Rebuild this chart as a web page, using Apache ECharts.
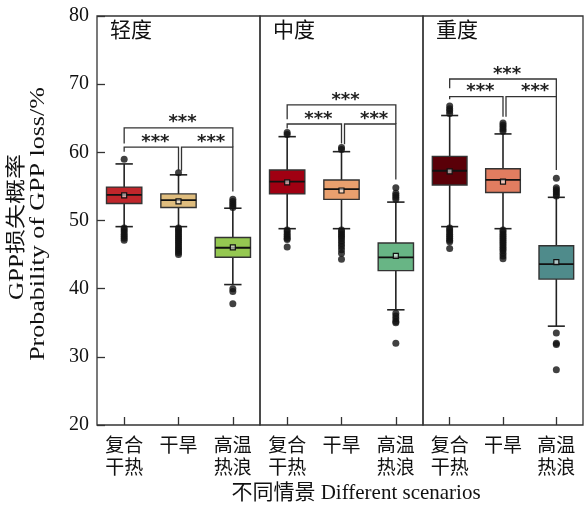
<!DOCTYPE html>
<html>
<head>
<meta charset="utf-8">
<script src="https://cdn.jsdelivr.net/npm/echarts@6/dist/echarts.min.js"></script>
<style>html,body{margin:0;padding:0;background:#fff}#c{width:584px;height:510px}</style>
</head>
<body>
<div id="c"></div>
<script>
// ---------------- data ----------------
const panelNames = ['轻度', '中度', '重度'];
const scenarios = ['复合\n干热', '干旱', '高温\n热浪'];
const yTicks = [20, 30, 40, 50, 60, 70, 80];
// box stats: [lowerWhisker, Q1, median, Q3, upperWhisker]
const mildStats = [[49.1, 52.5, 53.75, 54.9, 58.3], [49.1, 51.9, 53.0, 53.9, 56.7], [40.6, 44.6, 46.0, 47.5, 51.8]];
const moderateStats = [[48.8, 53.9, 55.7, 57.4, 62.3], [48.8, 53.1, 54.6, 55.95, 60.1], [36.9, 42.65, 44.6, 46.7, 52.7]];
const severeStats = [[49.1, 55.2, 57.3, 59.4, 65.4], [48.8, 54.1, 55.95, 57.6, 62.7], [34.5, 41.4, 43.6, 46.3, 53.4]];
const mildMeans = [53.7, 52.8, 46.05];
const moderateMeans = [55.6, 54.4, 44.8];
const severeMeans = [57.2, 55.7, 43.9];
// outliers: [scenarioIndex, value]
const mildOutliers = [
  [0, 59.0], [0, 48.9], [0, 48.6], [0, 48.3], [0, 48.0], [0, 47.7], [0, 47.4], [0, 47.1],
  [1, 57.0], [1, 48.9], [1, 48.6], [1, 48.3], [1, 48.0], [1, 47.7], [1, 47.4], [1, 47.1], [1, 46.8], [1, 46.5], [1, 46.2], [1, 45.9], [1, 45.6], [1, 45.3], [1, 45.0],
  [2, 51.9], [2, 52.2], [2, 52.5], [2, 52.8], [2, 53.1], [2, 40.0], [2, 39.6], [2, 37.8]
];
const moderateOutliers = [
  [0, 62.6], [0, 62.9], [0, 48.6], [0, 48.3], [0, 48.0], [0, 47.7], [0, 47.4], [0, 47.2], [0, 46.1],
  [1, 60.4], [1, 60.7], [1, 48.6], [1, 48.3], [1, 48.0], [1, 47.7], [1, 47.4], [1, 47.0], [1, 46.6], [1, 46.2], [1, 45.7], [1, 45.2], [1, 44.3],
  [2, 54.8], [2, 54.0], [2, 53.7], [2, 53.4], [2, 53.1], [2, 36.4], [2, 36.0], [2, 35.6], [2, 35.2], [2, 35.0], [2, 32.0]
];
const severeOutliers = [
  [0, 65.7], [0, 66.1], [0, 66.4], [0, 66.8], [0, 48.9], [0, 48.6], [0, 48.3], [0, 48.0], [0, 47.7], [0, 47.4], [0, 47.1], [0, 46.9], [0, 45.9],
  [1, 63.1], [1, 63.4], [1, 63.7], [1, 64.0], [1, 64.3], [1, 48.6], [1, 48.3], [1, 48.0], [1, 47.7], [1, 47.4], [1, 47.1], [1, 46.8], [1, 46.5], [1, 46.2], [1, 45.9], [1, 45.6], [1, 45.2], [1, 44.8], [1, 44.4],
  [2, 56.2], [2, 54.8], [2, 54.5], [2, 54.2], [2, 53.9], [2, 53.6], [2, 33.5], [2, 32.0], [2, 31.8], [2, 28.1]
];
// significance brackets: [fromIndex, toIndex, barLevel, fromLegEnd, toLegEnd]
const mildBrackets = [[0, 2, 63.6, 61.3, 60.75], [0, 1, 60.75, 60.1, 57.3], [1, 2, 60.75, 57.3, 54.25]];
const moderateBrackets = [[0, 2, 66.95, 64.85, 64.16], [0, 1, 64.16, 63.5, 61.3], [1, 2, 64.16, 61.2, 56.0]];
const severeBrackets = [[0, 2, 70.76, 69.4, 68.17], [0, 1, 68.17, 67.8, 65.23], [1, 2, 68.17, 65.23, 57.4]];
const sigLabel = '***';

// ---------------- style ----------------
const boxColors = [
  ['#c0262b', '#dfbd7e', '#95c851'],
  ['#a00012', '#e9a06e', '#68b585'],
  ['#5a0008', '#e17d60', '#4f8b8b']
];
const SERIF = '"Times New Roman","Liberation Serif","Noto Sans CJK SC",serif';
const INK = '#222';
const gridLefts = [97, 260, 423];
const gridWidths = [163, 163, 160];

const statsAll = [mildStats, moderateStats, severeStats];
const meansAll = [mildMeans, moderateMeans, severeMeans];
const outAll = [mildOutliers, moderateOutliers, severeOutliers];
const brAll = [mildBrackets, moderateBrackets, severeBrackets];

function boxRender(panel) {
  return function (params, api) {
    const i = api.value(0);
    const pLo = api.coord([i, api.value(1)]);
    const pQ1 = api.coord([i, api.value(2)]);
    const pMed = api.coord([i, api.value(3)]);
    const pQ3 = api.coord([i, api.value(4)]);
    const pHi = api.coord([i, api.value(5)]);
    const pMean = api.coord([i, api.value(6)]);
    const band = api.size([1, 0])[0];
    const bw = band * 0.65, cw = band * 0.32;
    const x = pMed[0];
    const col = boxColors[panel][i];
    const ls = { stroke: INK, lineWidth: 1.6 };
    return {
      type: 'group',
      children: [
        { type: 'line', shape: { x1: x, y1: pHi[1], x2: x, y2: pLo[1] }, style: ls },
        { type: 'line', shape: { x1: x - cw / 2, y1: pHi[1], x2: x + cw / 2, y2: pHi[1] }, style: ls },
        { type: 'line', shape: { x1: x - cw / 2, y1: pLo[1], x2: x + cw / 2, y2: pLo[1] }, style: ls },
        { type: 'rect', shape: { x: x - bw / 2, y: pQ3[1], width: bw, height: pQ1[1] - pQ3[1] }, style: { fill: col, stroke: '#333', lineWidth: 1.4 } },
        { type: 'line', shape: { x1: x - bw / 2, y1: pMed[1], x2: x + bw / 2, y2: pMed[1] }, style: { stroke: '#111', lineWidth: 1.8 } },
        { type: 'rect', shape: { x: x - 2.5, y: pMean[1] - 2.5, width: 5, height: 5 }, style: { fill: 'rgba(255,255,255,0.55)', stroke: '#111', lineWidth: 1.2 } }
      ]
    };
  };
}

function bracketRender(params, api) {
  const a = api.value(0), b = api.value(1);
  const top = api.coord([a, api.value(2)]);
  const endA = api.coord([a, api.value(3)]);
  const topB = api.coord([b, api.value(2)]);
  const endB = api.coord([b, api.value(4)]);
  const dx = a === 1 ? 3 : 0;
  const xA = top[0] + dx, xB = topB[0];
  return {
    type: 'group',
    children: [
      { type: 'polyline', shape: { points: [[xA, endA[1]], [xA, top[1]], [xB, top[1]], [xB, endB[1]]] }, style: { stroke: '#333', lineWidth: 1.3, fill: null } },
      { type: 'text', style: { text: sigLabel, x: (xA + xB) / 2 + 4, y: top[1] - 5, textAlign: 'center', textVerticalAlign: 'middle', font: 'bold 18px "DejaVu Sans"', fill: '#222' } }
    ]
  };
}

const grids = [], xAxes = [], yAxes = [], series = [], graphics = [];
for (let p = 0; p < 3; p++) {
  grids.push({ left: gridLefts[p], width: gridWidths[p], top: 16, height: 409, show: true, borderColor: '#333', borderWidth: 1.3, backgroundColor: 'transparent' });
  xAxes.push({
    type: 'category', gridIndex: p, data: scenarios,
    axisLine: { show: false },
    axisTick: { show: true, inside: true, length: 8, alignWithLabel: true, lineStyle: { color: '#333', width: 1.3 } },
    axisLabel: { color: '#111', fontSize: 19, lineHeight: 22, margin: 11, fontFamily: SERIF, interval: 0 },
    splitLine: { show: false }
  });
  yAxes.push({
    type: 'value', gridIndex: p, min: 20, max: 80, interval: 10,
    axisLine: { show: false },
    axisTick: { show: p === 0, inside: true, length: 8, lineStyle: { color: '#333', width: 1.3 } },
    axisLabel: { show: p === 0, color: '#111', fontSize: 20, margin: 8, fontFamily: SERIF,
      formatter: v => yTicks.indexOf(v) >= 0 ? String(v) : '' },
    splitLine: { show: false }
  });
  series.push({
    type: 'custom', xAxisIndex: p, yAxisIndex: p, renderItem: boxRender(p), z: 2,
    encode: { x: 0, y: [1, 5] },
    data: statsAll[p].map((s, i) => [i, s[0], s[1], s[2], s[3], s[4], meansAll[p][i]])
  });
  series.push({
    type: 'scatter', xAxisIndex: p, yAxisIndex: p, symbol: 'circle', symbolSize: 7, z: 3,
    itemStyle: { color: '#111' }, data: outAll[p]
  });
  series.push({
    type: 'custom', xAxisIndex: p, yAxisIndex: p, renderItem: bracketRender, z: 4,
    encode: { x: [0, 1], y: [2, 3, 4] }, data: brAll[p]
  });
  graphics.push({ type: 'text', left: gridLefts[p] + 13, top: 21, style: { text: panelNames[p], font: '21px ' + SERIF, fill: '#111' } });
}
graphics.push({ type: 'text', x: 18, y: 227, rotation: Math.PI / 2, scaleX: 1.25, style: { text: 'GPP损失概率', font: '20px ' + SERIF, fill: '#111', textAlign: 'center', textVerticalAlign: 'middle' } });
graphics.push({ type: 'text', x: 39, y: 224, rotation: Math.PI / 2, scaleX: 1.3, style: { text: 'Probability of GPP loss/%', font: '20px ' + SERIF, fill: '#111', textAlign: 'center', textVerticalAlign: 'middle' } });
graphics.push({ type: 'text', x: 356, y: 493, style: { text: '不同情景 Different scenarios', font: '21px ' + SERIF, fill: '#111', textAlign: 'center', textVerticalAlign: 'middle' } });

const chart = echarts.init(document.getElementById('c'), null, { renderer: 'canvas' });
chart.setOption({
  animation: false,
  backgroundColor: '#fff',
  grid: grids, xAxis: xAxes, yAxis: yAxes, series: series, graphic: graphics
});
</script>
</body>
</html>
